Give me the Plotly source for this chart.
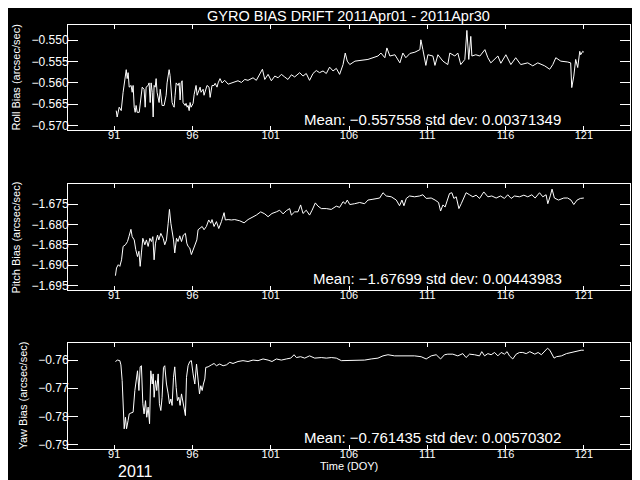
import numpy as np
import plotly.graph_objects as go

# ---------------- data (DOY, arcsec/sec) ----------------
roll_doy = [91.13, 91.19, 91.32, 91.45, 91.57, 91.70, 91.77, 91.83, 91.89, 91.96, 92.08, 92.15, 92.21, 92.28,
            92.34, 92.40, 92.47, 92.60, 92.72, 92.79, 92.91, 92.98, 93.04, 93.17, 93.23, 93.30, 93.36, 93.43,
            93.49, 93.55, 93.62, 93.68, 93.74, 93.87, 93.94, 94.00, 94.06, 94.19, 94.32, 94.38, 94.45, 94.51,
            94.57, 94.64, 94.70, 94.77, 94.83, 94.89, 94.96, 95.08, 95.15, 95.21, 95.28, 95.34, 95.40, 95.53,
            95.59, 95.66, 95.72, 95.79, 95.85, 95.91, 96.04, 96.11, 96.23, 96.30, 96.36, 96.49, 96.55, 96.68,
            96.74, 96.87, 96.93, 97.06, 97.13, 97.25, 97.38, 97.45, 97.57, 97.64, 97.76, 97.89,
            98.06, 98.28, 98.59, 98.91, 99.13, 99.34, 99.55, 99.87, 100.08, 100.30, 100.47, 100.62, 100.83,
            101.04, 101.26, 101.47, 101.68, 101.89, 102.10, 102.32, 102.53, 102.85, 103.06, 103.27, 103.48,
            103.70, 103.91, 104.12, 104.34, 104.55, 104.76, 104.98, 105.19, 105.40, 105.62, 105.76, 105.89,
            106.05, 106.38, 107.21, 107.85, 108.04, 108.29, 108.42, 108.61, 108.93, 109.25, 109.44, 109.63,
            109.89, 110.21, 110.53, 110.59, 110.72, 110.91, 111.04, 111.36, 111.49, 111.68, 112.00, 112.31,
            112.44, 112.76, 112.95, 113.14, 113.40, 113.53, 113.65, 113.78, 113.85, 114.10, 114.36, 114.68,
            114.87, 115.06, 115.51, 115.70, 116.02, 116.34, 116.65, 116.97, 117.42, 117.74, 118.06, 118.50,
            118.82, 119.02, 119.21, 119.53, 119.97, 120.16, 120.23, 120.36, 120.48, 120.61, 120.74, 120.80,
            120.93, 121.00]
roll_val = [-0.5665, -0.5680, -0.5657, -0.5665, -0.5622, -0.5587, -0.5569, -0.5590, -0.5576, -0.5610, -0.5606,
            -0.5622, -0.5606, -0.5657, -0.5669, -0.5653, -0.5669, -0.5669, -0.5629, -0.5610, -0.5615, -0.5657,
            -0.5610, -0.5606, -0.5600, -0.5646, -0.5600, -0.5622, -0.5680, -0.5606, -0.5610, -0.5590, -0.5622,
            -0.5646, -0.5615, -0.5634, -0.5653, -0.5653, -0.5629, -0.5600, -0.5576, -0.5569, -0.5583, -0.5610,
            -0.5646, -0.5653, -0.5657, -0.5629, -0.5600, -0.5606, -0.5600, -0.5640, -0.5600, -0.5595, -0.5646,
            -0.5653, -0.5648, -0.5657, -0.5653, -0.5665, -0.5646, -0.5657, -0.5648, -0.5627, -0.5606, -0.5629,
            -0.5622, -0.5610, -0.5622, -0.5615, -0.5629, -0.5610, -0.5606, -0.5610, -0.5634, -0.5606, -0.5606,
            -0.5601, -0.5610, -0.5600, -0.5590, -0.5600,
            -0.5594, -0.5603, -0.5599, -0.5595, -0.5599, -0.5592, -0.5594, -0.5588, -0.5594, -0.5580, -0.5568,
            -0.5592, -0.5580, -0.5595, -0.5584, -0.5588, -0.5580, -0.5586, -0.5592, -0.5581, -0.5586, -0.5576,
            -0.5584, -0.5578, -0.5594, -0.5578, -0.5571, -0.5576, -0.5572, -0.5578, -0.5563, -0.5572, -0.5566,
            -0.5580, -0.5557, -0.5530, -0.5549,
            -0.5557, -0.5549, -0.5545, -0.5537, -0.5530, -0.5541, -0.5518, -0.5537, -0.5534, -0.5553, -0.5530,
            -0.5541, -0.5531, -0.5528, -0.5522, -0.5499, -0.5522, -0.5559, -0.5534, -0.5537, -0.5559, -0.5534,
            -0.5549, -0.5557, -0.5530, -0.5537, -0.5530, -0.5557, -0.5545, -0.5477, -0.5545, -0.5491, -0.5537,
            -0.5534, -0.5537, -0.5522, -0.5541, -0.5553, -0.5537, -0.5554, -0.5534, -0.5557, -0.5541, -0.5557,
            -0.5553, -0.5560, -0.5553, -0.5560, -0.5568, -0.5557, -0.5541, -0.5549, -0.5551, -0.5553, -0.5611,
            -0.5584, -0.5545, -0.5564, -0.5526, -0.5534, -0.5526, -0.5528]

pitch_doy = [91.08, 91.15, 91.26, 91.36, 91.47, 91.57, 91.72, 91.85, 91.94, 92.07, 92.15, 92.28, 92.38, 92.49,
             92.58, 92.66, 92.74, 92.83, 92.96, 93.06, 93.17, 93.28, 93.38, 93.47, 93.55, 93.64, 93.77, 93.85,
             93.98, 94.13, 94.23, 94.34, 94.45, 94.53, 94.62, 94.70, 94.79, 94.87, 94.98, 95.08, 95.19, 95.30,
             95.42, 95.55, 95.64, 95.72, 95.83, 95.93, 96.04, 96.15, 96.28, 96.36, 96.49, 96.62, 96.74, 96.89,
             97.04, 97.17, 97.25, 97.38, 97.53, 97.68, 97.85, 98.02, 98.10, 98.28, 98.49, 98.70, 99.02, 99.30,
             99.55, 99.81, 100.08, 100.36, 100.62, 100.83, 101.08, 101.36, 101.57, 101.79, 102.00, 102.21,
             102.32, 102.53, 102.74, 102.91, 103.06, 103.27, 103.48, 103.64, 103.85, 104.02, 104.23, 104.55,
             104.87, 105.19, 105.40, 105.62, 105.76, 105.89,
             106.05, 106.36, 106.68, 107.00, 107.21, 107.53, 107.96, 108.17, 108.38, 108.70, 109.02, 109.23,
             109.38, 109.51, 109.66, 109.87, 110.19, 110.51, 110.72, 110.93, 111.25, 111.50, 111.72, 111.85,
             112.00, 112.14, 112.27, 112.42, 112.57, 112.70, 112.85, 113.02, 113.17, 113.34, 113.48, 113.70,
             113.91, 114.12, 114.34, 114.61, 114.87, 115.12, 115.40, 115.68, 115.93, 116.14, 116.36, 116.57,
             116.89, 117.17, 117.42, 117.68, 117.89, 118.17, 118.38, 118.59, 118.70, 118.87, 118.97, 119.12,
             119.38, 119.72, 119.97, 120.18, 120.36, 120.57, 120.78, 121.00]
pitch_val = [-1.6926, -1.6907, -1.6899, -1.6903, -1.6887, -1.6854, -1.6850, -1.6842, -1.6830, -1.6812, -1.6830,
             -1.6838, -1.6862, -1.6879, -1.6866, -1.6903, -1.6870, -1.6834, -1.6850, -1.6838, -1.6854, -1.6834,
             -1.6842, -1.6830, -1.6887, -1.6846, -1.6826, -1.6838, -1.6822, -1.6834, -1.6850, -1.6838, -1.6797,
             -1.6763, -1.6797, -1.6813, -1.6838, -1.6870, -1.6834, -1.6842, -1.6828, -1.6842, -1.6826, -1.6822,
             -1.6846, -1.6854, -1.6858, -1.6874, -1.6862, -1.6850, -1.6838, -1.6813, -1.6810, -1.6805, -1.6813,
             -1.6805, -1.6789, -1.6797, -1.6788, -1.6805, -1.6793, -1.6810, -1.6793, -1.6771, -1.6789, -1.6788,
             -1.6789, -1.6788, -1.6791, -1.6796, -1.6788, -1.6783, -1.6777, -1.6769, -1.6774, -1.6781, -1.6773,
             -1.6769, -1.6765, -1.6774, -1.6766, -1.6761, -1.6777, -1.6769, -1.6769, -1.6752, -1.6773, -1.6765,
             -1.6777, -1.6765, -1.6747, -1.6755, -1.6761, -1.6761, -1.6763, -1.6755, -1.6758, -1.6744, -1.6749,
             -1.6740,
             -1.6751, -1.6749, -1.6746, -1.6749, -1.6740, -1.6738, -1.6735, -1.6722, -1.6730, -1.6732, -1.6740,
             -1.6754, -1.6740, -1.6754, -1.6736, -1.6730, -1.6732, -1.6730, -1.6727, -1.6736, -1.6735, -1.6740,
             -1.6746, -1.6767, -1.6752, -1.6757, -1.6740, -1.6724, -1.6722, -1.6736, -1.6732, -1.6761, -1.6749,
             -1.6736, -1.6722, -1.6727, -1.6732, -1.6728, -1.6736, -1.6720, -1.6732, -1.6730, -1.6735, -1.6730,
             -1.6736, -1.6727, -1.6736, -1.6730, -1.6732, -1.6728, -1.6732, -1.6727, -1.6735, -1.6722, -1.6732,
             -1.6727, -1.6749, -1.6728, -1.6713, -1.6735, -1.6740, -1.6735, -1.6735, -1.6740, -1.6751, -1.6740,
             -1.6736, -1.6735]

yaw_doy = [91.08, 91.21, 91.36, 91.43, 91.51, 91.57, 91.64, 91.72, 91.79, 91.89, 91.96, 92.07, 92.21, 92.32,
           92.43, 92.49, 92.58, 92.66, 92.74, 92.83, 92.91, 93.00, 93.08, 93.17, 93.26, 93.34, 93.43, 93.49,
           93.55, 93.64, 93.72, 93.81, 93.89, 93.98, 94.06, 94.15, 94.23, 94.34, 94.45, 94.53, 94.62, 94.70,
           94.79, 94.87, 94.96, 95.04, 95.13, 95.21, 95.30, 95.38, 95.47, 95.55, 95.62, 95.72, 95.83, 95.93,
           96.04, 96.15, 96.26, 96.36, 96.45, 96.53, 96.62, 96.70, 96.79, 96.85, 97.00, 97.21, 97.38, 97.53,
           97.74, 97.96, 98.17, 98.38, 98.59, 98.91, 99.23, 99.55, 99.87, 100.19, 100.51, 100.83, 101.08,
           101.36, 101.68, 102.00, 102.28, 102.49, 102.64, 102.91, 103.17, 103.48, 103.81, 104.23, 104.55,
           104.87, 105.19, 105.51, 105.89,
           106.15, 106.57, 107.00, 107.42, 107.85, 108.17, 108.49, 108.91, 109.34, 109.76, 110.19, 110.61,
           110.93, 111.25, 111.57, 111.85, 112.10, 112.31, 112.63, 112.95, 113.27, 113.48, 113.70, 114.02,
           114.34, 114.48, 114.66, 114.87, 115.08, 115.30, 115.51, 115.72, 115.93, 116.10, 116.25, 116.46,
           116.68, 116.89, 117.10, 117.32, 117.55, 117.87, 118.08, 118.29, 118.51, 118.68, 118.83, 118.98,
           119.10, 119.25, 119.57, 119.89, 120.21, 120.40, 120.61, 120.83, 121.00]
yaw_val = [-0.7605, -0.7600, -0.7602, -0.7617, -0.7673, -0.7791, -0.7844, -0.7803, -0.7844, -0.7814, -0.7791,
           -0.7788, -0.7785, -0.7708, -0.7661, -0.7638, -0.7708, -0.7624, -0.7620, -0.7755, -0.7791, -0.7744,
           -0.7803, -0.7767, -0.7826, -0.7638, -0.7685, -0.7649, -0.7732, -0.7673, -0.7708, -0.7649, -0.7755,
           -0.7779, -0.7732, -0.7626, -0.7620, -0.7685, -0.7720, -0.7755, -0.7738, -0.7761, -0.7661, -0.7624,
           -0.7697, -0.7744, -0.7732, -0.7761, -0.7720, -0.7744, -0.7785, -0.7797, -0.7661, -0.7620, -0.7605,
           -0.7602, -0.7649, -0.7685, -0.7614, -0.7673, -0.7720, -0.7691, -0.7708, -0.7685, -0.7667, -0.7626,
           -0.7624, -0.7617, -0.7612, -0.7620, -0.7614, -0.7620, -0.7617, -0.7608, -0.7612, -0.7605, -0.7602,
           -0.7605, -0.7600, -0.7602, -0.7596, -0.7600, -0.7605, -0.7596, -0.7600, -0.7596, -0.7593, -0.7581,
           -0.7591, -0.7588, -0.7593, -0.7585, -0.7593, -0.7591, -0.7593, -0.7591, -0.7593, -0.7602, -0.7602,
           -0.7600, -0.7600, -0.7600, -0.7596, -0.7593, -0.7585, -0.7581, -0.7585, -0.7585, -0.7585, -0.7585,
           -0.7588, -0.7596, -0.7585, -0.7581, -0.7596, -0.7581, -0.7579, -0.7579, -0.7585, -0.7577, -0.7591,
           -0.7579, -0.7581, -0.7585, -0.7570, -0.7585, -0.7577, -0.7581, -0.7573, -0.7585, -0.7573, -0.7579,
           -0.7570, -0.7585, -0.7596, -0.7579, -0.7573, -0.7573, -0.7577, -0.7570, -0.7579, -0.7573, -0.7581,
           -0.7567, -0.7558, -0.7565, -0.7581, -0.7593, -0.7588, -0.7585, -0.7577, -0.7573, -0.7570, -0.7567,
           -0.7565, -0.7565]

titles = ["Roll Bias (arcsec/sec)", "Pitch Bias (arcsec/sec)", "Yaw Bias (arcsec/sec)"]
stats = ["Mean: \u22120.557558 std dev: 0.00371349",
         "Mean: \u22121.67699 std dev: 0.00443983",
         "Mean: \u22120.761435 std dev: 0.00570302"]
main_title = "GYRO BIAS DRIFT 2011Apr01 - 2011Apr30"
x_title = "Time (DOY)"
year_label = "2011"

# ---------------- layout ----------------
W, H = 640, 480
FONT = "Liberation Sans"

def py(pix):
    return 1 - pix / H

def px(pix):
    return pix / W

x_dom = [px(60), px(622)]
x_range = [88.05, 123.95]
y_doms = [[py(123), py(17)], [py(283.3), py(177.3)], [py(443.3), py(337.3)]]
y_ranges = [[-0.5711, -0.5464], [-1.6960, -1.6701], [-0.7914, -0.7540]]
y_dticks = [0.005, 0.005, 0.01]
y_fmts = [".3f", ".3f", ".2f"]
title_pos = [(8, 70), (8, 231), (15, 390)]
stat_pos = [(294, 112), (303, 272), (294, 432)]

x_minor_vals = list(range(88, 125))

fig = go.Figure()
series = [(roll_doy, roll_val), (pitch_doy, pitch_val), (yaw_doy, yaw_val)]
axis_id = 4
for i, (xs, ys) in enumerate(series):
    sfx = "" if i == 0 else str(i + 1)
    fig.add_trace(go.Scatter(x=xs, y=ys, mode="lines", line=dict(color="white", width=1),
                             xaxis="x" + sfx, yaxis="y" + sfx, showlegend=False, hoverinfo="skip"))

    lo, hi = y_ranges[i]
    y_minor_vals = [round(v, 3) for v in np.arange(np.ceil(lo / 0.001) * 0.001, hi, 0.001)]

    common = dict(showgrid=False, zeroline=False, showline=True, linecolor="white", linewidth=1,
                  mirror="allticks", ticks="inside", tickcolor="white")
    fig.layout["xaxis" + sfx] = dict(domain=x_dom, range=x_range, tick0=91, dtick=5,
                                     ticklen=4, anchor="y" + sfx, ticklabelstandoff=-5,
                                     tickfont=dict(family=FONT, size=11, color="white"),
                                     **common)
    fig.layout["yaxis" + sfx] = dict(domain=y_doms[i], range=y_ranges[i], dtick=y_dticks[i],
                                     tickformat=y_fmts[i], ticklen=10, anchor="x" + sfx,
                                     ticklabelstandoff=-4,
                                     tickfont=dict(family=FONT, size=12, color="white"),
                                     **common)
    # minor tick axes on all four sides, overlaid on the main ones
    minor_common = dict(showgrid=False, zeroline=False, showline=False, mirror=False,
                        ticks="inside", tickcolor="white", showticklabels=False, tickmode="array")
    for side in ("bottom", "top"):
        fig.layout["xaxis" + str(axis_id)] = dict(overlaying="x" + sfx, anchor="y" + sfx, range=x_range,
                                                  tickvals=x_minor_vals, ticklen=3, side=side,
                                                  **minor_common)
        axis_id += 1
    for side in ("left", "right"):
        fig.layout["yaxis" + str(axis_id)] = dict(overlaying="y" + sfx, anchor="x" + sfx,
                                                  range=y_ranges[i], tickvals=y_minor_vals,
                                                  ticklen=6, side=side, **minor_common)
        axis_id += 1

    tx, ty = title_pos[i]
    fig.add_annotation(text=titles[i], x=px(tx), y=py(ty), xref="paper", yref="paper",
                       textangle=-90, showarrow=False, xanchor="center", yanchor="middle",
                       font=dict(family=FONT, size=11, color="white"))
    sx, sy = stat_pos[i]
    fig.add_annotation(text=stats[i], x=px(sx), y=py(sy), xref="paper", yref="paper",
                       showarrow=False, xanchor="left", yanchor="middle",
                       font=dict(family=FONT, size=15, color="white"))

fig.add_annotation(text=main_title, x=px(340), y=py(8), xref="paper", yref="paper", showarrow=False,
                   xanchor="center", yanchor="middle", font=dict(family=FONT, size=14.5, color="white"))
fig.add_annotation(text=x_title, x=px(341), y=py(461), xref="paper", yref="paper", showarrow=False,
                   xanchor="center", yanchor="middle", font=dict(family=FONT, size=11, color="white"))
fig.add_annotation(text=year_label, x=px(127), y=py(466), xref="paper", yref="paper", showarrow=False,
                   xanchor="center", yanchor="middle", font=dict(family=FONT, size=16, color="white"))

fig.update_layout(width=W, height=H, margin=dict(l=0, r=0, t=0, b=0),
                  paper_bgcolor="black", plot_bgcolor="black")

fig.write_html("out.html")
